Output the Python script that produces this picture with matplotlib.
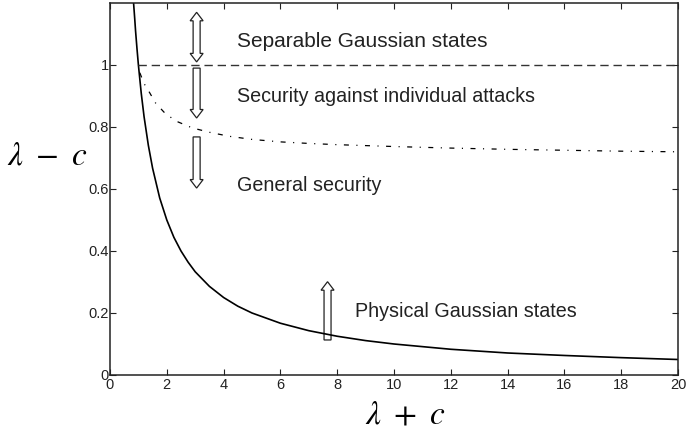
import numpy as np
import matplotlib
matplotlib.use("Agg")
import matplotlib.pyplot as plt
from matplotlib.patches import Polygon
from matplotlib.transforms import IdentityTransform

plt.rcParams['font.family'] = ['Liberation Sans', 'DejaVu Sans']
plt.rcParams['mathtext.fontset'] = 'stix'
plt.rcParams['lines.scale_dashes'] = False

# physical Gaussian states boundary (solid)
phys_x = [0.83, 0.87, 0.9, 0.95, 1.0, 1.1, 1.2, 1.35, 1.5, 1.75, 2.0, 2.25, 2.5, 2.75, 3.0,
          3.5, 4.0, 4.5, 5.0, 6.0, 7.0, 8.0, 9.0, 10.0, 12.0, 14.0, 16.0, 18.0, 20.0]
phys_y = [1.2, 1.15, 1.11, 1.053, 1.0, 0.909, 0.833, 0.741, 0.667, 0.571, 0.5, 0.444, 0.4,
          0.364, 0.333, 0.286, 0.25, 0.222, 0.2, 0.167, 0.143, 0.125, 0.111, 0.1, 0.083,
          0.071, 0.063, 0.056, 0.05]

# individual attacks boundary (dash-dot)
ind_x = [1.05, 1.2, 1.4, 1.6, 1.9, 2.3, 2.9, 3.5, 4.2, 5.0, 6.0, 7.0, 8.0, 10.0, 12.0,
         14.0, 16.0, 18.0, 20.0]
ind_y = [0.975, 0.94, 0.91, 0.878, 0.848, 0.82, 0.797, 0.783, 0.77, 0.76, 0.752, 0.747,
         0.743, 0.737, 0.732, 0.728, 0.725, 0.722, 0.72]

# separable states boundary (dashed)
sep_x = [1.0, 20.0]
sep_y = [1.0, 1.0]

x_ticks = [0, 2, 4, 6, 8, 10, 12, 14, 16, 18, 20]
y_ticks = [0, 0.2, 0.4, 0.6, 0.8, 1.0]
y_ticklabels = ["0", "0.2", "0.4", "0.6", "0.8", "1"]

fig = plt.figure(figsize=(6.89, 4.33), dpi=100)
ax = fig.add_axes([110/689, 58/433, 568/689, 372/433])

ax.plot(phys_x, phys_y, color='black', lw=1.2)
ax.plot(ind_x, ind_y, color='black', lw=0.9, dashes=(3.6, 5.4, 0.8, 5.4))
ax.plot(sep_x, sep_y, color='#333333', lw=1.0, dashes=(6, 3.5))

ax.set_xlim(0, 20)
ax.set_ylim(0, 1.2)
ax.set_xticks(x_ticks)
ax.set_yticks(y_ticks)
ax.set_yticklabels(y_ticklabels)
ax.tick_params(direction='in', length=4, width=0.8, labelsize=10.5, colors='#222222',
               top=True, right=True, pad=2)
ax.tick_params(axis='y', pad=1)
for s in ax.spines.values():
    s.set_linewidth(1.1)
    s.set_color('#222222')

ax.set_xlabel(r'$\lambda\ +\ c$', fontsize=24, va='center')
ax.xaxis.set_label_coords(0.52, -0.108)
ax.set_ylabel(r'$\lambda\ -\ c$', fontsize=24, rotation=0, va='center', ha='center')
ax.yaxis.set_label_coords(-0.11, 0.59)

txt = dict(fontsize=14.2, color='#222222', va='center')
ax.text(4.47, 1.075, 'Separable Gaussian states', **dict(txt, fontsize=15))
ax.text(4.47, 0.9, 'Security against individual attacks', **txt)
ax.text(4.47, 0.61, 'General security', **txt)
ax.text(8.63, 0.205, 'Physical Gaussian states', **txt)

fig.canvas.draw()


def block_arrow(x, y0, y1, both=False):
    # hollow block arrow pointing from y0 to y1 (pixel sizes)
    X, Y0 = ax.transData.transform((x, y0))
    _, Y1 = ax.transData.transform((x, y1))
    sw, hw, hl = 3.5, 6.5, 8.5
    d = 1 if Y1 > Y0 else -1
    pts = []
    if both:
        pts += [(X, Y0), (X + hw, Y0 + d*hl), (X + sw, Y0 + d*hl)]
    else:
        pts += [(X + sw, Y0)]
    pts += [(X + sw, Y1 - d*hl), (X + hw, Y1 - d*hl), (X, Y1),
            (X - hw, Y1 - d*hl), (X - sw, Y1 - d*hl)]
    if both:
        pts += [(X - sw, Y0 + d*hl), (X - hw, Y0 + d*hl)]
    else:
        pts += [(X - sw, Y0)]
    ax.add_patch(Polygon(pts, closed=True, facecolor='white', edgecolor='#222222',
                         lw=0.9, transform=IdentityTransform(), clip_on=False))


block_arrow(3.05, 1.01, 1.17, both=True)
block_arrow(3.05, 0.99, 0.829)
block_arrow(3.05, 0.768, 0.603)
block_arrow(7.66, 0.113, 0.301)

fig.savefig('out.png', dpi=100)
